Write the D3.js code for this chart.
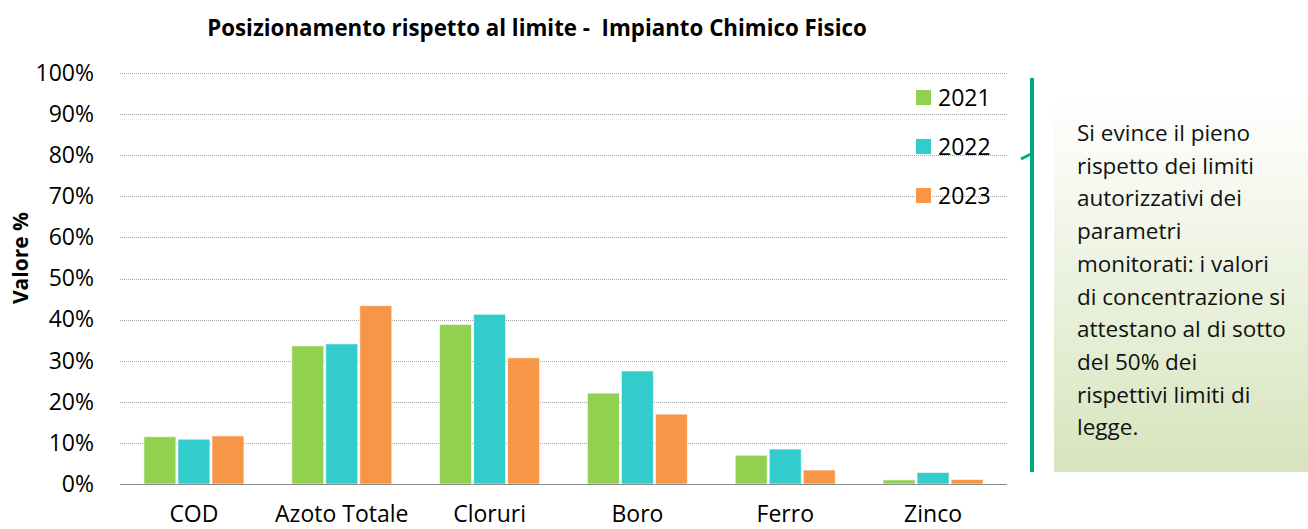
<!DOCTYPE html>
<html lang="it">
<head>
<meta charset="utf-8">
<title>Posizionamento rispetto al limite</title>
<script src="https://d3js.org/d3.v7.min.js"></script>
<style>
  body { margin: 0; background: #fff; }
  svg { display: block; font-family: "Open Sans", "Noto Sans", sans-serif; }
  .grid line { stroke: #a6a6a6; stroke-dasharray: 1,1; }
  .axis path, .axis line { display: none; }
</style>
</head>
<body>
<script>
var W = 1308, H = 529;

var categories = ["COD", "Azoto Totale", "Cloruri", "Boro", "Ferro", "Zinco"];
var years = ["2021", "2022", "2023"];
var values2021 = [11.5, 33.6, 38.8, 22.1, 7.0, 1.0];
var values2022 = [10.9, 34.1, 41.3, 27.5, 8.5, 2.8];
var values2023 = [11.7, 43.4, 30.7, 17.0, 3.4, 1.1];
var yTicks = [0, 10, 20, 30, 40, 50, 60, 70, 80, 90, 100];
var colors = ["#92D050", "#33CCCC", "#F79646"];
var noteLines = ["Si evince il pieno", "rispetto dei limiti", "autorizzativi dei",
  "parametri", "monitorati: i valori", "di concentrazione si",
  "attestano al di sotto", "del 50% dei", "rispettivi limiti di", "legge."];

var series = [values2021, values2022, values2023];

var svg = d3.select("body").append("svg").attr("width", W).attr("height", H);

var x = d3.scaleBand().domain(categories).range([120, 1007]);
var xInner = d3.scaleBand().domain(years).range([0, 100]).paddingInner(0.06);
var y = d3.scaleLinear().domain([0, 100]).range([484, 73]);

// title
svg.append("text")
  .attr("x", 537).attr("y", 36)
  .attr("text-anchor", "middle")
  .style("font-weight", "bold").style("font-size", "22.3px")
  .style("white-space", "pre")
  .text("Posizionamento rispetto al limite -  Impianto Chimico Fisico");

// gridlines
svg.append("g").attr("class", "grid")
  .selectAll("line").data(yTicks.filter(function(d) { return d > 0; }))
  .enter().append("line")
  .attr("x1", 120).attr("x2", 1007)
  .attr("y1", function(d) { return Math.round(y(d)) + 0.5; })
  .attr("y2", function(d) { return Math.round(y(d)) + 0.5; });

// y axis labels
var yAxis = d3.axisLeft(y).tickValues(yTicks).tickFormat(function(d) { return d + "%"; }).tickSize(0).tickPadding(0);
svg.append("g").attr("class", "axis")
  .attr("transform", "translate(94,0)")
  .call(yAxis)
  .selectAll("text").style("font-size", "23px").style("fill", "#000")
  .style("font-family", "'Open Sans', sans-serif");

svg.append("text")
  .attr("transform", "translate(28,258) rotate(-90)")
  .attr("text-anchor", "middle")
  .style("font-weight", "bold").style("font-size", "21px")
  .text("Valore %");

// bars
var groups = svg.selectAll(".cat").data(categories).enter().append("g")
  .attr("transform", function(d) { return "translate(" + (x(d) + x.bandwidth() / 2 - 50) + ",0)"; });

groups.selectAll("rect")
  .data(function(d, i) { return series.map(function(s, j) { return { year: years[j], v: s[i], c: colors[j] }; }); })
  .enter().append("rect")
  .attr("x", function(d) { return xInner(d.year); })
  .attr("width", xInner.bandwidth())
  .attr("y", function(d) { return y(d.v); })
  .attr("height", function(d) { return y(0) - y(d.v); })
  .attr("fill", function(d) { return d.c; })
  .attr("stroke", "#fff").attr("stroke-opacity", 0.6).attr("stroke-width", 1);

// baseline
svg.append("line")
  .attr("x1", 120).attr("x2", 1007)
  .attr("y1", 484.5).attr("y2", 484.5)
  .attr("stroke", "#8c8c8c").attr("stroke-width", 1);

// x labels
var xAxis = d3.axisBottom(x).tickSize(0).tickPadding(0);
svg.append("g").attr("class", "axis")
  .attr("transform", "translate(0,522)")
  .call(xAxis)
  .selectAll("text").attr("dy", 0).style("font-size", "23px").style("fill", "#000")
  .style("font-family", "'Open Sans', sans-serif");

// legend
var legend = svg.selectAll(".leg").data(years).enter().append("g")
  .attr("transform", function(d, i) { return "translate(916," + (90 + i * 49) + ")"; });
legend.append("rect").attr("width", 15).attr("height", 15)
  .attr("fill", function(d, i) { return colors[i]; });
legend.append("text").attr("x", 22).attr("y", 16)
  .style("font-size", "23px")
  .text(function(d) { return d; });

// note box
var defs = svg.append("defs");
var grad = defs.append("linearGradient").attr("id", "noteGrad")
  .attr("x1", 0).attr("y1", 0).attr("x2", 0).attr("y2", 1);
grad.append("stop").attr("offset", "0%").attr("stop-color", "#ffffff");
grad.append("stop").attr("offset", "100%").attr("stop-color", "#D7E4BD");

svg.append("rect")
  .attr("x", 1054).attr("y", 96).attr("width", 254).attr("height", 376)
  .attr("fill", "url(#noteGrad)");

svg.append("line")
  .attr("x1", 1032).attr("x2", 1032).attr("y1", 78).attr("y2", 472)
  .attr("stroke", "#00A87E").attr("stroke-width", 4);
svg.append("line")
  .attr("x1", 1021).attr("y1", 159).attr("x2", 1031).attr("y2", 154)
  .attr("stroke", "#00A87E").attr("stroke-width", 3);

svg.append("g").selectAll("text").data(noteLines).enter().append("text")
  .attr("x", 1077)
  .attr("y", function(d, i) { return 141 + i * 32.7; })
  .style("font-size", "22.5px")
  .style("fill", "#111")
  .text(function(d) { return d; });
</script>
</body>
</html>
